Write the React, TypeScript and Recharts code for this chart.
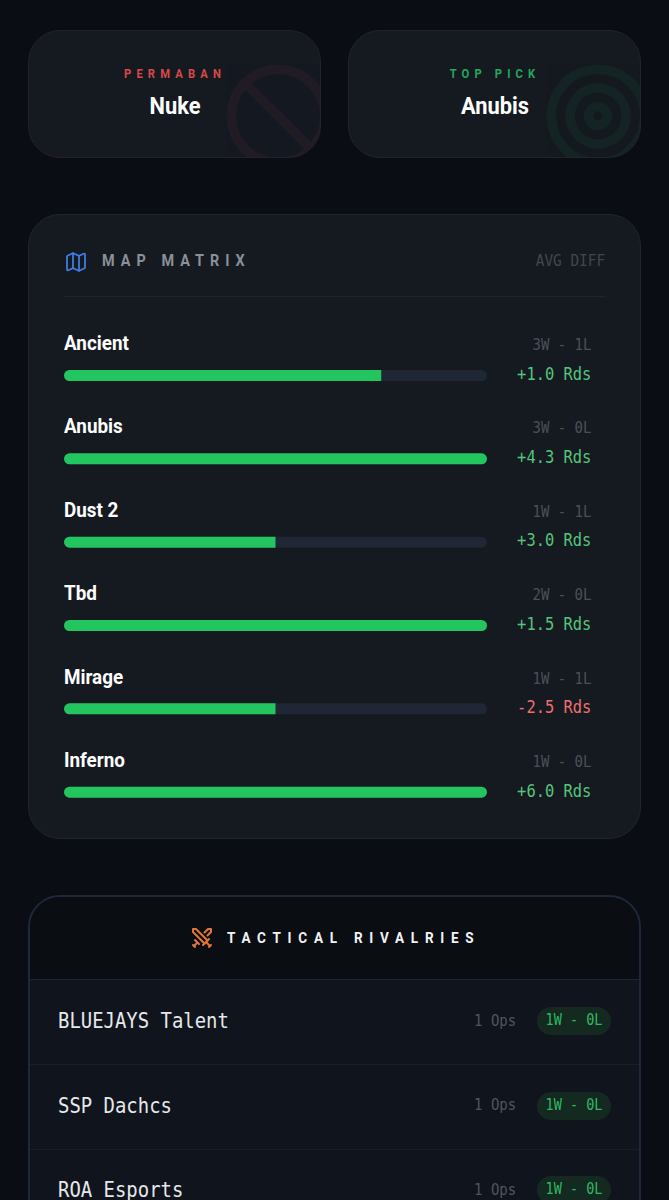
import React from "react";
import { BarChart, Bar, XAxis, YAxis, Rectangle } from "recharts";

const mapNames = ["Ancient", "Anubis", "Dust 2", "Tbd", "Mirage", "Inferno"];
const mapWinRates = [75, 100, 50, 100, 50, 100];
const mapRecords = ["3W - 1L", "3W - 0L", "1W - 1L", "2W - 0L", "1W - 1L", "1W - 0L"];
const mapDiffs = ["+1.0 Rds", "+4.3 Rds", "+3.0 Rds", "+1.5 Rds", "-2.5 Rds", "+6.0 Rds"];
const rivalNames = ["BLUEJAYS Talent", "SSP Dachcs", "ROA Esports"];
const rivalOps = ["1 Ops", "1 Ops", "1 Ops"];
const rivalRecords = ["1W - 0L", "1W - 0L", "1W - 0L"];

const chartData = mapNames.map((name, i) => ({ name, winRate: mapWinRates[i] }));

const ROBOTO = "Roboto, sans-serif";
const MONO = "'DejaVu Sans Mono', monospace";

const abs = (o: React.CSSProperties): React.CSSProperties => ({ position: "absolute", whiteSpace: "nowrap", ...o });

function Txt({ x, right, cy, size, color, font, weight, ls, center, sx, children }: any) {
  const st: React.CSSProperties = {
    top: cy - size,
    height: size * 2,
    lineHeight: `${size * 2}px`,
    fontSize: size,
    color,
    fontFamily: font,
    fontWeight: weight ?? 400,
    letterSpacing: ls ?? 0,
    transform: `scaleX(${sx ?? 1})`,
  };
  if (center !== undefined) {
    st.left = center - 200;
    st.width = 400;
    st.textAlign = "center";
    st.transformOrigin = "center";
  } else if (right !== undefined) {
    st.right = 669 - right;
    st.transformOrigin = "right";
  } else {
    st.left = x;
    st.transformOrigin = "left";
  }
  return <div style={abs(st)}>{children}</div>;
}

function Icon({ x, y, size, color, opacity, sw, children }: any) {
  return (
    <svg
      style={{ position: "absolute", left: x, top: y, opacity: opacity ?? 1 }}
      width={size}
      height={size}
      viewBox="0 0 24 24"
      fill="none"
      stroke={color}
      strokeWidth={sw ?? 2}
      strokeLinecap="round"
      strokeLinejoin="round"
    >
      {children}
    </svg>
  );
}

function PickCard({ left, label, labelColor, name, border, children }: any) {
  return (
    <>
      <div
        style={abs({
          left,
          top: 30,
          width: 293,
          height: 128,
          boxSizing: "border-box",
          borderRadius: 32,
          background: "#151a21",
          border: `1px solid ${border}`,
          overflow: "hidden",
        })}
      >
        {children}
      </div>
      <Txt center={left + 146.5} cy={73.5} size={13} sx={0.86} color={labelColor} font={ROBOTO} weight={700} ls="6px">{label}</Txt>
      <Txt center={left + 146.5} cy={105.5} size={24} sx={0.91} color="#ffffff" font={ROBOTO} weight={700}>{name}</Txt>
    </>
  );
}

function TrackBar(props: any) {
  const { x, y, width, height, payload } = props;
  const r = payload.winRate >= 100 ? 5.5 : [5.5, 0, 0, 5.5];
  return <Rectangle x={x} y={y} width={width} height={height} fill="#22c55e" radius={r as any} />;
}

const rowCenters = [343, 426.5, 510, 593, 677, 760];
const statCenters = [345, 428, 512, 595.5, 679, 762.5];
const diffCenters = [374, 457, 540.5, 624, 707.5, 791];
const rivalCenters = [1020.5, 1105, 1189.5];

export default function App() {
  return (
    <div
      style={{
        position: "absolute",
        left: 0,
        top: 0,
        width: 669,
        height: 1200,
        overflow: "hidden",
        background: "#0a0d13",
      }}
    >
      <PickCard left={28} label="PERMABAN" labelColor="#d8484a" name="Nuke" border="#272026">
        <Icon x={193} y={29} size={112} color="#ef4444" opacity={0.06}>
          <circle cx="12" cy="12" r="10" />
          <path d="m4.9 4.9 14.2 14.2" />
        </Icon>
      </PickCard>
      <PickCard left={348} label="TOP PICK" labelColor="#22a85a" name="Anubis" border="#1e262b">
        <Icon x={193} y={29} size={112} color="#22c55e" opacity={0.055}>
          <circle cx="12" cy="12" r="10" />
          <circle cx="12" cy="12" r="6" />
          <circle cx="12" cy="12" r="2" />
        </Icon>
      </PickCard>

      <div
        style={abs({
          left: 28,
          top: 214,
          width: 613,
          height: 625,
          boxSizing: "border-box",
          borderRadius: 32,
          background: "#151a21",
          border: "1px solid #20262e",
        })}
      />
      <Icon x={64} y={250} size={24} color="#3f7de0" sw={1.8}>
        <path d="M14.106 5.553a2 2 0 0 0 1.788 0l3.659-1.83A1 1 0 0 1 21 4.619v12.764a1 1 0 0 1-.553.894l-4.553 2.277a2 2 0 0 1-1.788 0l-4.212-2.106a2 2 0 0 0-1.788 0l-3.659 1.83A1 1 0 0 1 3 19.381V6.618a1 1 0 0 1 .553-.894l4.553-2.277a2 2 0 0 1 1.788 0z" />
        <path d="M15 5.764v15" />
        <path d="M9 3.236v15" />
      </Icon>
      <Txt x={102} cy={261} size={16} sx={0.9} color="#8a8f98" font={ROBOTO} weight={700} ls="6.7px">MAP MATRIX</Txt>
      <Txt right={605} cy={261} size={16} sx={0.9} color="#41464e" font={MONO}>AVG DIFF</Txt>
      <div style={abs({ left: 64, top: 295.5, width: 541, height: 1, background: "#20252d" })} />

      {mapNames.map((n, i) => (
        <React.Fragment key={n}>
          <Txt x={64} cy={rowCenters[i]} size={20.5} sx={0.92} color="#ffffff" font={ROBOTO} weight={700}>{n}</Txt>
          <Txt right={591} cy={statCenters[i]} size={15.5} sx={0.9} color="#4b5058" font={MONO}>{mapRecords[i]}</Txt>
          <Txt right={591} cy={diffCenters[i]} size={17.5} sx={0.88} color={mapDiffs[i].startsWith("-") ? "#ef6f6f" : "#55c57c"} font={MONO}>{mapDiffs[i]}</Txt>
        </React.Fragment>
      ))}

      <div style={{ position: "absolute", left: 64, top: 333.5 }}>
        <BarChart
          width={423}
          height={500}
          data={chartData}
          layout="vertical"
          margin={{ top: 0, right: 0, bottom: 0, left: 0 }}
        >
          <XAxis type="number" domain={[0, 100]} hide />
          <YAxis type="category" dataKey="name" hide />
          <Bar
            dataKey="winRate"
            barSize={11}
            isAnimationActive={false}
            background={{ fill: "#1e2733", radius: 5.5 } as any}
            shape={TrackBar}
          />
        </BarChart>
      </div>

      <div
        style={abs({
          left: 28,
          top: 895,
          width: 613,
          height: 360,
          boxSizing: "border-box",
          borderRadius: 32,
          background: "#10141c",
          border: "2px solid #1e2838",
          overflow: "hidden",
        })}
      >
        <div style={abs({ left: 0, top: 0, width: 609, height: 82, background: "#0a0d12", borderBottom: "1px solid #1e2530" })} />
        <div style={abs({ left: 0, top: 167, width: 609, height: 1, background: "#191f29" })} />
        <div style={abs({ left: 0, top: 251.5, width: 609, height: 1, background: "#191f29" })} />
      </div>
      <Icon x={190} y={925.5} size={24} color="#e0763c">
        <polyline points="14.5 17.5 3 6 3 3 6 3 17.5 14.5" />
        <line x1="13" y1="19" x2="19" y2="13" />
        <line x1="16" y1="16" x2="20" y2="20" />
        <line x1="19" y1="21" x2="21" y2="19" />
        <polyline points="14.5 6.5 18 3 21 3 21 6 17.5 9.5" />
        <line x1="5" y1="14" x2="9" y2="18" />
        <line x1="7" y1="17" x2="4" y2="20" />
        <line x1="3" y1="19" x2="5" y2="21" />
      </Icon>
      <Txt x={227} cy={937.5} size={15} sx={0.9} color="#f2f3f5" font={ROBOTO} weight={700} ls="7.5px">TACTICAL RIVALRIES</Txt>

      {rivalNames.map((n, i) => (
        <React.Fragment key={n}>
          <Txt x={58} cy={rivalCenters[i]} size={21.5} sx={0.88} color="#e6e8eb" font={MONO}>{n}</Txt>
          <Txt right={516} cy={rivalCenters[i]} size={16} sx={0.875} color="#50555d" font={MONO}>{rivalOps[i]}</Txt>
          <div style={abs({ left: 537, top: rivalCenters[i] - 13.5, width: 74, height: 28, borderRadius: 14, background: "#14291f" })} />
          <Txt center={574} cy={rivalCenters[i]} size={15.5} sx={0.87} color="#2fb864" font={MONO}>{rivalRecords[i]}</Txt>
        </React.Fragment>
      ))}
    </div>
  );
}
